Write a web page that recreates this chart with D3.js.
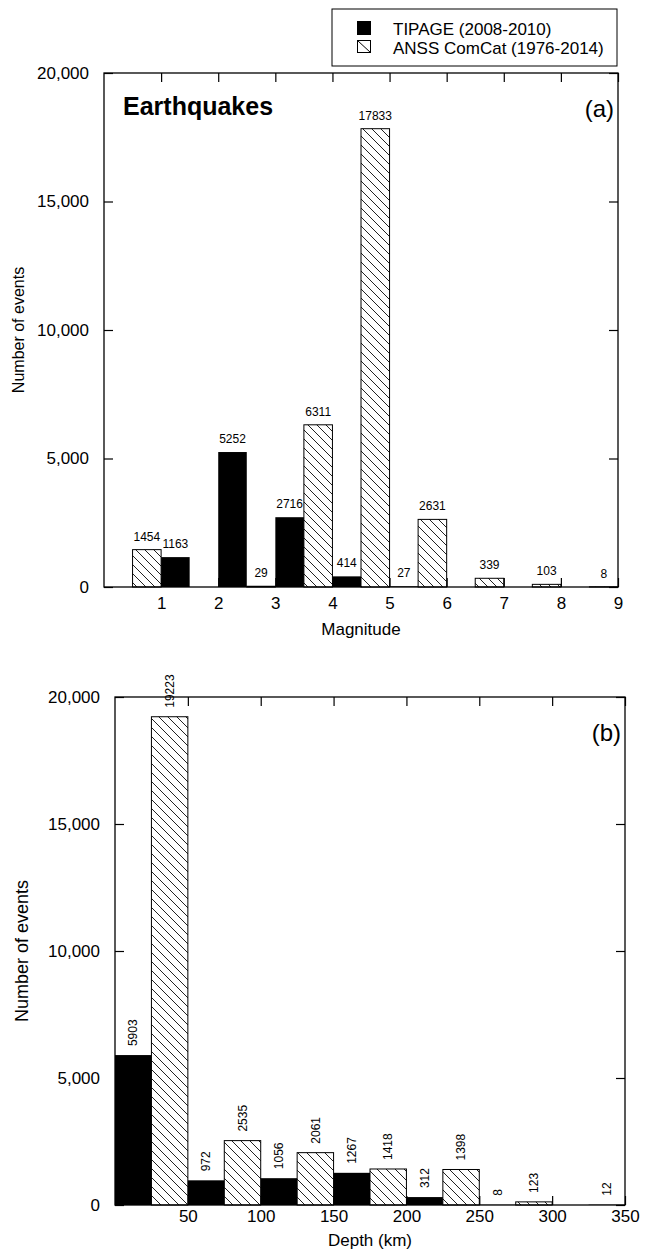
<!DOCTYPE html>
<html>
<head>
<meta charset="utf-8">
<script src="https://cdn.jsdelivr.net/npm/d3@7/dist/d3.min.js"></script>
<style>
  body { margin: 0; background: #fff; }
  svg { font-family: "Liberation Sans", Arial, sans-serif; }
</style>
</head>
<body>
<div id="chart"></div>
<script>
// Histogram data
// (a) magnitude bins, 0.5 units wide
var magBinWidth = 0.5;
var tipageMagStart = [1, 2, 3, 4, 5];
var tipageMagCount = [1163, 5252, 2716, 414, 27];
var anssMagStart = [0.5, 2.5, 3.5, 4.5, 5.5, 6.5, 7.5, 8.5];
var anssMagCount = [1454, 29, 6311, 17833, 2631, 339, 103, 8];
var magTicks = [1, 2, 3, 4, 5, 6, 7, 8, 9];

// (b) depth bins, 25 km wide
var depthBinWidth = 25;
var tipageDepthStart = [0, 50, 100, 150, 200, 250, 325];
var tipageDepthCount = [5903, 972, 1056, 1267, 312, 8, 12];
var anssDepthStart = [25, 75, 125, 175, 225, 275];
var anssDepthCount = [19223, 2535, 2061, 1418, 1398, 123];
var depthTicks = [50, 100, 150, 200, 250, 300, 350];

var countTicks = [0, 5000, 10000, 15000, 20000];
var legendLabels = ["TIPAGE (2008-2010)", "ANSS ComCat (1976-2014)"];

var svgWidth = 646;
var svgHeight = 1259;

var svg = d3.select("#chart")
  .append("svg")
  .attr("width", svgWidth)
  .attr("height", svgHeight);

// diagonal hatch for the ANSS bars
svg.append("defs")
  .append("pattern")
  .attr("id", "hatch")
  .attr("patternUnits", "userSpaceOnUse")
  .attr("width", 9)
  .attr("height", 9)
  .append("path")
  .attr("d", "M-1,-1 L10,10 M-1,8 L1,10 M8,-1 L10,1")
  .attr("stroke", "#222")
  .attr("stroke-width", 1);

function toBars(starts, counts) {
  return starts.map(function(s, i) { return {x0: s, n: counts[i]}; });
}

function drawPanel(opt) {
  var x = d3.scaleLinear().domain(opt.xDomain).range([opt.left, opt.right]);
  var y = d3.scaleLinear().domain([0, 20000]).range([opt.bottom, opt.top]);
  var g = svg.append("g");
  var tick = 9;

  // bars
  var anss = toBars(opt.anssStart, opt.anssCount);
  var tipage = toBars(opt.tipStart, opt.tipCount);

  g.selectAll(".anss")
    .data(anss)
    .enter()
    .append("rect")
    .attr("x", d => x(d.x0))
    .attr("y", d => y(d.n))
    .attr("width", d => x(d.x0 + opt.binWidth) - x(d.x0))
    .attr("height", d => y(0) - y(d.n))
    .attr("fill", "url(#hatch)")
    .attr("stroke", "#000")
    .attr("stroke-width", 1);

  g.selectAll(".tip")
    .data(tipage)
    .enter()
    .append("rect")
    .attr("x", d => x(d.x0))
    .attr("y", d => y(d.n))
    .attr("width", d => x(d.x0 + opt.binWidth) - x(d.x0))
    .attr("height", d => y(0) - y(d.n))
    .attr("fill", "#000");

  // count labels
  var all = anss.concat(tipage);
  if (opt.rotateLabels) {
    g.selectAll(".lab")
      .data(all)
      .enter()
      .append("text")
      .attr("transform", d => "translate(" + x(d.x0 + opt.binWidth / 2) + "," + (y(d.n) - 9) + ") rotate(-90)")
      .attr("dy", "0.35em")
      .style("font-size", "12px")
      .text(d => d.n);
  } else {
    g.selectAll(".lab")
      .data(all)
      .enter()
      .append("text")
      .attr("x", d => x(d.x0 + opt.binWidth / 2))
      .attr("y", d => y(d.n) - 9)
      .style("text-anchor", "middle")
      .style("font-size", "12px")
      .text(d => d.n);
  }

  // frame with inward ticks on all sides
  g.append("rect")
    .attr("x", opt.left)
    .attr("y", opt.top)
    .attr("width", opt.right - opt.left)
    .attr("height", opt.bottom - opt.top)
    .attr("fill", "none")
    .attr("stroke", "#000")
    .attr("stroke-width", 1.3);

  var bottomAxis = d3.axisBottom(x).tickValues(opt.xTicks).tickSize(-tick).tickPadding(opt.xPad);
  var topAxis = d3.axisTop(x).tickValues(opt.xTicks).tickSize(-tick).tickFormat("");
  var leftAxis = d3.axisLeft(y).tickValues(countTicks).tickSize(-tick).tickPadding(15).tickFormat(d3.format(","));
  var rightAxis = d3.axisRight(y).tickValues(countTicks).tickSize(-tick).tickFormat("");

  var axes = [
    g.append("g").attr("transform", "translate(0," + opt.bottom + ")").call(bottomAxis),
    g.append("g").attr("transform", "translate(0," + opt.top + ")").call(topAxis),
    g.append("g").attr("transform", "translate(" + opt.left + ",0)").call(leftAxis),
    g.append("g").attr("transform", "translate(" + opt.right + ",0)").call(rightAxis)
  ];
  axes.forEach(function(a) {
    a.select(".domain").remove();
    a.selectAll("line").attr("stroke", "#000").attr("stroke-width", 1.2);
    a.selectAll("text")
      .attr("fill", "#000")
      .style("font-family", "Liberation Sans, Arial, sans-serif")
      .style("font-size", "17px");
  });

  // axis titles
  g.append("text")
    .attr("transform", "translate(" + opt.yTitleX + "," + ((opt.top + opt.bottom) / 2) + ") rotate(-90)")
    .style("text-anchor", "middle")
    .style("font-size", opt.yTitleSize)
    .text("Number of events");

  g.append("text")
    .attr("x", (opt.left + opt.right) / 2)
    .attr("y", opt.xTitleY)
    .style("text-anchor", "middle")
    .style("font-size", "17px")
    .text(opt.xTitle);

  // panel letter
  g.append("text")
    .attr("x", opt.right - 4)
    .attr("y", opt.top + 44)
    .style("text-anchor", "end")
    .style("font-size", "24px")
    .text(opt.letter);

  return g;
}

var panelA = drawPanel({
  left: 104, right: 618, top: 73, bottom: 587,
  xDomain: [0, 9], xTicks: magTicks, binWidth: magBinWidth,
  tipStart: tipageMagStart, tipCount: tipageMagCount,
  anssStart: anssMagStart, anssCount: anssMagCount,
  rotateLabels: false, xPad: 10,
  xTitle: "Magnitude", xTitleY: 635, yTitleX: 24, yTitleSize: "16px",
  letter: "(a)"
});

panelA.append("text")
  .attr("x", 123)
  .attr("y", 115)
  .style("font-size", "25px")
  .style("font-weight", "bold")
  .text("Earthquakes");

drawPanel({
  left: 115, right: 625, top: 697, bottom: 1205,
  xDomain: [0, 350], xTicks: depthTicks, binWidth: depthBinWidth,
  tipStart: tipageDepthStart, tipCount: tipageDepthCount,
  anssStart: anssDepthStart, anssCount: anssDepthCount,
  rotateLabels: true, xPad: 5,
  xTitle: "Depth (km)", xTitleY: 1246, yTitleX: 28, yTitleSize: "18px",
  letter: "(b)"
});

// legend
var legend = svg.append("g");
legend.append("rect")
  .attr("x", 332).attr("y", 9)
  .attr("width", 285).attr("height", 57)
  .attr("fill", "#fff")
  .attr("stroke", "#000")
  .attr("stroke-width", 1);

legendLabels.forEach(function(label, i) {
  var yy = 21 + i * 19;
  if (i === 0) {
    legend.append("rect")
      .attr("x", 357).attr("y", yy).attr("width", 14).attr("height", 14)
      .attr("fill", "#000");
  } else {
    legend.append("rect")
      .attr("x", 357.5).attr("y", yy + 0.5).attr("width", 13).attr("height", 12)
      .attr("fill", "#fff").attr("stroke", "#000");
    legend.append("line")
      .attr("x1", 357.5).attr("y1", yy + 0.5).attr("x2", 370.5).attr("y2", yy + 12.5)
      .attr("stroke", "#000");
  }
  legend.append("text")
    .attr("x", 393)
    .attr("y", yy + 14)
    .style("font-size", "17px")
    .text(label);
});
</script>
</body>
</html>
